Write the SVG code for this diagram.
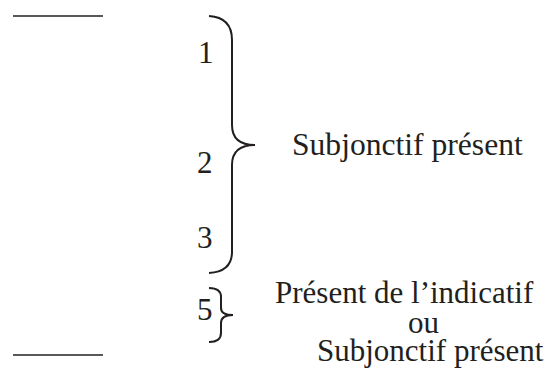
<svg xmlns="http://www.w3.org/2000/svg" width="546" height="388" viewBox="0 0 546 388">
<style>
text{font-family:"Liberation Serif","Times New Roman",serif;font-size:31px;fill:#231f20}
.ln{stroke:#231f20;stroke-width:1.3;fill:none}
.br{stroke:#231f20;stroke-width:2;fill:none}
</style>
<rect width="546" height="388" fill="#fff"/>
<g id="rules">
<line class="ln" x1="13" y1="16" x2="103" y2="16"/>
<line class="ln" x1="13" y1="355" x2="103" y2="355"/>
</g>
<g id="numbers">
<text x="198" y="63">1</text>
<text x="197" y="173">2</text>
<text x="197" y="248">3</text>
<text x="197" y="320">5</text>
</g>
<g id="connectors">
<path class="br" d="M209,16 C225,17 232,25 232,40 L232,125 C232,138 240,145 255,145 C240,145 232,152 232,165 L232,252 C232,265 225,272 209,273"/>
<path class="br" d="M209,288 C217,288 221,291 221,297 L221,308 C221,313 225,315 233,315 C225,315 221,318 221,323 L221,333 C221,339 217,342 209,342"/>
</g>
<g id="label1">
<text x="292" y="155" style="font-size:31.6px">Subjonctif présent</text>
</g>
<g id="label2">
<text x="275" y="303">Présent de l’indicatif</text>
<text x="408" y="333">ou</text>
<text x="317" y="361">Subjonctif présent</text>
</g>
</svg>
